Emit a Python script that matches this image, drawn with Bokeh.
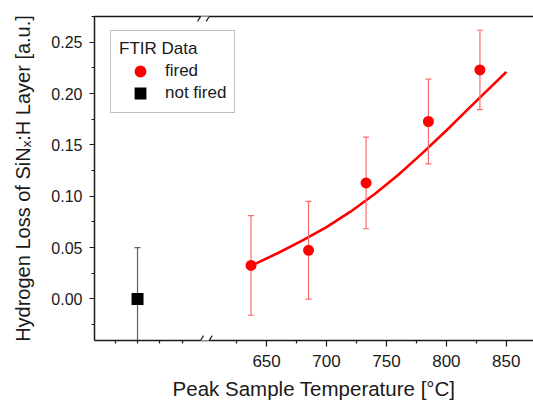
from bokeh.plotting import figure
from bokeh.models import (Range1d, FixedTicker, PrintfTickFormatter, LinearAxis, Legend,
                          LegendItem, PolyAnnotation, Arrow, Title)
from bokeh.embed import file_html
from bokeh.resources import INLINE

# ---- data ----
fired_temp = [637, 685, 733, 785, 828]
fired_loss = [0.0327, 0.0474, 0.113, 0.1728, 0.223]
fired_err = [0.0485, 0.0476, 0.0446, 0.0412, 0.0386]

# "not fired" sample sits on the separate, unlabeled left segment of the broken axis
notfired_pos = [542.3]
notfired_loss = [0.0]
notfired_err = [0.05]

fit_temp = [640, 660, 680, 700, 720, 740, 760, 780, 800, 820, 835, 850]
fit_loss = [0.034, 0.045, 0.057, 0.070, 0.085, 0.102, 0.121, 0.142, 0.164, 0.187, 0.204, 0.221]

x_major = [650, 700, 750, 800, 850]
x_minor = [524.2, 542.3, 560.8, 579.6, 625, 675, 725, 775, 825, 875]
y_major = [0.0, 0.05, 0.10, 0.15, 0.20, 0.25]
y_minor = [-0.025, 0.025, 0.075, 0.125, 0.175, 0.225, 0.275]
break_x = 598.5

x_title = "Peak Sample Temperature [°C]"
y_title = "Hydrogen Loss of SiN\u2093:H Layer [a.u.]"

FONT = "Liberation Sans"

p = figure(width=533, height=405, output_backend="svg", toolbar_location=None,
           x_range=Range1d(506.4, 872.7), y_range=Range1d(-0.0404, 0.275),
           min_border_left=94, min_border_right=0, min_border_top=16, min_border_bottom=61)
p.outline_line_color = None
p.grid.visible = False
p.background_fill_color = "white"

# axes
for ax in (p.xaxis[0], p.yaxis[0]):
    ax.axis_line_width = 1.5
    ax.axis_line_color = "#1a1a1a"
    ax.major_tick_line_color = "#1a1a1a"
    ax.minor_tick_line_color = "#1a1a1a"
    ax.major_tick_line_width = 1.2
    ax.minor_tick_line_width = 1.2
    ax.major_tick_in = 0
    ax.minor_tick_in = 0
    ax.major_label_text_font = FONT
    ax.axis_label_text_font = FONT
    ax.axis_label_text_font_style = "normal"
    ax.major_label_text_color = "#1a1a1a"
    ax.axis_label_text_color = "#1a1a1a"

p.xaxis.ticker = FixedTicker(ticks=x_major, minor_ticks=x_minor)
p.xaxis.major_tick_out = 6
p.xaxis.minor_tick_out = 3
p.xaxis.major_label_text_font_size = "17px"
p.xaxis.major_label_standoff = 8

p.yaxis.ticker = FixedTicker(ticks=y_major, minor_ticks=y_minor)
p.yaxis.formatter = PrintfTickFormatter(format="%.2f")
p.yaxis.major_tick_out = 5
p.yaxis.minor_tick_out = 3
p.yaxis.major_label_text_font_size = "16px"
p.yaxis.major_label_standoff = 7
p.yaxis.axis_label = y_title
p.yaxis.axis_label_text_font_size = "20px"
p.yaxis.axis_label_standoff = 14

# x-axis title as a title panel below the x axis
p.add_layout(Title(text=x_title, align="center", text_font=FONT, text_font_size="20.5px",
                   text_font_style="normal", text_color="#1a1a1a", standoff=11), "below")

top = LinearAxis(ticker=FixedTicker(ticks=[], minor_ticks=[]),
                 axis_line_width=1.5, axis_line_color="#1a1a1a",
                 major_tick_line_color=None, minor_tick_line_color=None,
                 major_tick_out=0, minor_tick_out=0, major_label_standoff=0)
p.add_layout(top, "above")

# fit curve
p.line(fit_temp, fit_loss, line_color="#ff0000", line_width=2.6)

# error bars (segments + caps)
fired_lo = [v - e for v, e in zip(fired_loss, fired_err)]
fired_hi = [v + e for v, e in zip(fired_loss, fired_err)]
nf_lo = [v - e for v, e in zip(notfired_loss, notfired_err)]
nf_hi = [v + e for v, e in zip(notfired_loss, notfired_err)]

p.segment(fired_temp, fired_lo, fired_temp, fired_hi, line_color="#ff6a6a", line_width=1.2)
p.scatter(fired_temp + fired_temp, fired_lo + fired_hi, marker="dash", size=6,
          line_color="#ff6a6a", line_width=1.2)
p.segment(notfired_pos, nf_lo, notfired_pos, nf_hi, line_color="#606060", line_width=1.2)
p.scatter(notfired_pos + notfired_pos, nf_lo + nf_hi, marker="dash", size=6,
          line_color="#606060", line_width=1.2)

r_fired = p.scatter(fired_temp, fired_loss, marker="circle", size=8, line_width=3,
                    fill_color="#ff0000", line_color="#ff0000")
r_nf = p.scatter(notfired_pos, notfired_loss, marker="square", size=9, line_width=3,
                 line_join="miter", fill_color="black", line_color="black")

legend = Legend(items=[LegendItem(label="fired", renderers=[r_fired]),
                       LegendItem(label="not fired", renderers=[r_nf])],
                title="FTIR Data", location=(16, 227), margin=0, padding=8,
                glyph_width=42, glyph_height=22, spacing=0, label_standoff=4,
                title_standoff=1,
                label_text_font=FONT, label_text_font_size="17px", label_text_color="#1a1a1a",
                title_text_font=FONT, title_text_font_size="17px", title_text_font_style="normal",
                title_text_color="#1a1a1a",
                border_line_color="#808080", border_line_width=1.5,
                background_fill_alpha=1.0)
p.add_layout(legend, "center")

# axis break marks on top and bottom frame lines
y0, y1 = -0.0404, 0.275
gap = 3.6
for yb in (y0, y1):
    p.add_layout(PolyAnnotation(xs=[break_x - gap, break_x + gap, break_x + gap, break_x - gap],
                                ys=[yb - 0.003, yb - 0.003, yb + 0.003, yb + 0.003],
                                fill_color="white", fill_alpha=1.0, line_color=None))
    for dx in (-gap, gap):
        p.add_layout(Arrow(end=None, x_start=break_x + dx - 2.5, y_start=yb - 0.0048,
                           x_end=break_x + dx + 2.5, y_end=yb + 0.0048,
                           line_color="#1a1a1a", line_width=1.2))

open("out.html", "w").write(file_html(p, INLINE))
